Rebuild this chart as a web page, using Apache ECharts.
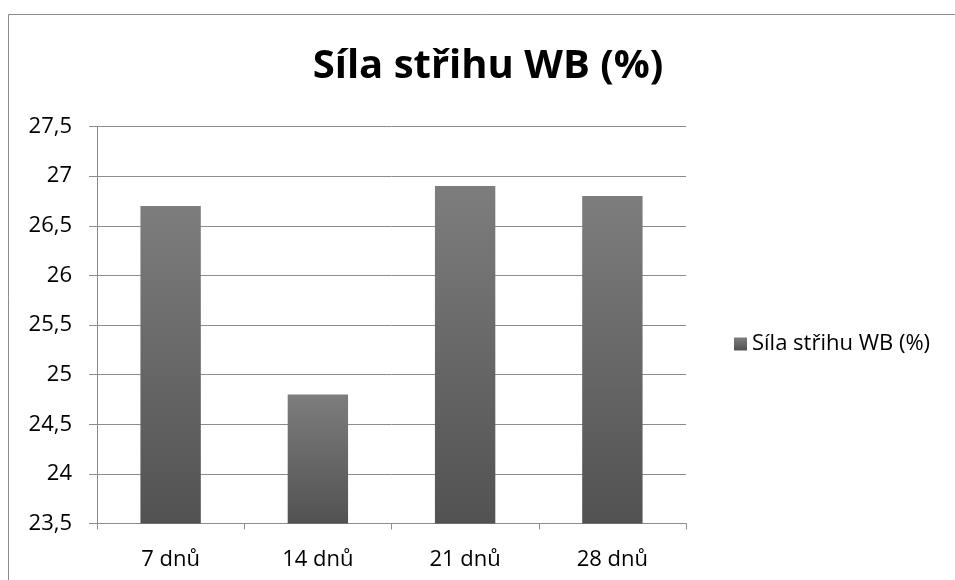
<!DOCTYPE html>
<html>
<head>
<meta charset="utf-8">
<script src="https://cdn.jsdelivr.net/npm/echarts@6/dist/echarts.min.js"></script>
<style>
  html, body { margin: 0; padding: 0; background: #fff; }
  #chart { width: 955px; height: 580px; }
</style>
</head>
<body>
<div id="chart"></div>
<script>
// Shear force by ageing time
const categories = ['7 dnů', '14 dnů', '21 dnů', '28 dnů'];
const values = [26.7, 24.8, 26.9, 26.8];
const seriesName = 'Síla střihu WB (%)';
const yTicks = { min: 23.5, max: 27.5, step: 0.5 };

const font = '"Open Sans", "Noto Sans", sans-serif';
const chart = echarts.init(document.getElementById('chart'));

const barFill = new echarts.graphic.LinearGradient(0, 0, 0, 1, [
  { offset: 0, color: '#7d7d7d' },
  { offset: 1, color: '#525252' }
]);

chart.setOption({
  backgroundColor: '#fff',
  animation: false,
  graphic: [{
    type: 'rect',
    shape: { x: 8.5, y: 14.5, width: 1000, height: 1000 },
    style: { fill: 'none', stroke: '#8c8c8c', lineWidth: 1 },
    silent: true
  }],
  title: {
    text: seriesName,
    left: 483,
    textAlign: 'center',
    top: 42,
    textStyle: { fontFamily: font, fontSize: 40, fontWeight: 'bold', color: '#000' }
  },
  legend: {
    orient: 'vertical',
    left: 729,
    top: 328,
    icon: 'rect',
    itemWidth: 13,
    itemHeight: 13,
    itemGap: 5,
    textStyle: { fontFamily: font, fontSize: 22, color: '#000' },
    data: [seriesName]
  },
  grid: { left: 97, right: 269, top: 126.5, bottom: 56.5 },
  xAxis: {
    type: 'category',
    data: categories,
    axisLine: { lineStyle: { color: '#8c8c8c', width: 1 } },
    axisTick: { show: true, length: 6, lineStyle: { color: '#8c8c8c' } },
    axisLabel: { fontFamily: font, fontSize: 22, color: '#000', margin: 25 }
  },
  yAxis: {
    type: 'value',
    min: yTicks.min,
    max: yTicks.max,
    interval: yTicks.step,
    axisLine: { show: true, lineStyle: { color: '#8c8c8c', width: 1 } },
    axisTick: { show: true, length: 8, lineStyle: { color: '#8c8c8c' } },
    splitLine: { lineStyle: { color: '#8c8c8c', width: 1 } },
    axisLabel: {
      fontFamily: font, fontSize: 22, color: '#000', margin: 25,
      formatter: v => String(v).replace('.', ',')
    }
  },
  series: [{
    name: seriesName,
    type: 'bar',
    data: values,
    barWidth: '41%',
    itemStyle: { color: barFill }
  }]
});
</script>
</body>
</html>
